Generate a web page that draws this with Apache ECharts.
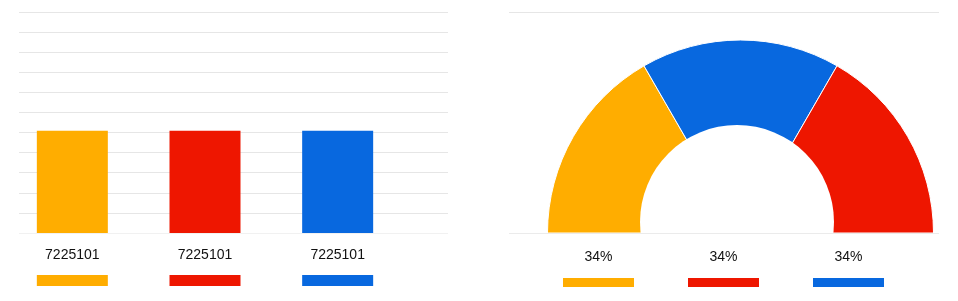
<!DOCTYPE html>
<html>
<head>
<meta charset="utf-8">
<script src="https://cdn.jsdelivr.net/npm/echarts@6/dist/echarts.min.js"></script>
<style>
html,body{margin:0;padding:0;background:#fff;}
#chart{width:958px;height:301px;}
</style>
</head>
<body>
<div id="chart"></div>
<script>
// ---- data ----
const categories = ['Option 1', 'Option 2', 'Option 3'];
const barValues = [7225101, 7225101, 7225101];
const pieValues = [34, 34, 34];
const pieLabels = ['34%', '34%', '34%'];
const pieOrder = [0, 2, 1];            // order of slices clockwise from the left
const yMax = 15620000;
const yInterval = 1420000;

// ---- styles ----
const colors = ['#FFAD00', '#EE1600', '#0868DF'];
const FONT = '"Liberation Sans Narrow", "Liberation Sans", Arial, sans-serif';

function richFor(i, text) {
  return '{v|' + text + '}\n{s|}\n{r' + i + '|}';
}
function makeRich(gap, rectH) {
  const rich = {
    v: { fontFamily: FONT, fontSize: 14, color: '#111111', lineHeight: 24, align: 'center' },
    s: { height: gap, lineHeight: gap }
  };
  colors.forEach((c, i) => {
    rich['r' + i] = { width: 71, height: rectH, backgroundColor: c, align: 'center' };
  });
  return rich;
}

const chart = echarts.init(document.getElementById('chart'));
const splitColorsLeft = ['#f1f1f1'].concat(new Array(11).fill('#e6e6e6'));

chart.setOption({
  animation: false,
  grid: [
    { left: 19, width: 429, top: 12, height: 221 },   // 0: left gridlines
    { left: 6, width: 398, top: 12, height: 221 },    // 1: left bars
    { left: 509, width: 430, top: 12, height: 221 },  // 2: right lines
    { left: 536, width: 375, top: 12, height: 221 }   // 3: right labels
  ],
  xAxis: [
    { gridIndex: 0, type: 'category', data: categories, show: false },
    {
      gridIndex: 1, type: 'category', data: categories, z: 10,
      axisLine: { show: false }, axisTick: { show: false },
      axisLabel: {
        margin: 10, interval: 0,
        formatter: (val, idx) => richFor(idx, String(barValues[idx])),
        rich: makeRich(8, 11)
      }
    },
    { gridIndex: 2, type: 'category', data: categories, show: false },
    {
      gridIndex: 3, type: 'category', data: categories, z: 10,
      axisLine: { show: false }, axisTick: { show: false },
      axisLabel: {
        margin: 12, interval: 0,
        formatter: (val, idx) => richFor(idx, pieLabels[idx]),
        rich: makeRich(9, 9)
      }
    }
  ],
  yAxis: [
    {
      gridIndex: 0, type: 'value', min: 0, max: yMax, interval: yInterval,
      axisLine: { show: false }, axisTick: { show: false }, axisLabel: { show: false },
      splitLine: { show: true, lineStyle: { color: splitColorsLeft, width: 1 } }
    },
    {
      gridIndex: 1, type: 'value', min: 0, max: yMax, interval: yInterval, show: false,
      splitLine: { show: false }
    },
    {
      gridIndex: 2, type: 'value', min: 0, max: 1, interval: 1, z: 10,
      axisLine: { show: false }, axisTick: { show: false }, axisLabel: { show: false },
      splitLine: { show: true, lineStyle: { color: ['#ebebeb', '#e6e6e6'], width: 1 } }
    },
    { gridIndex: 3, type: 'value', min: 0, max: 1, show: false, splitLine: { show: false } }
  ],
  series: [
    {
      type: 'bar', xAxisIndex: 1, yAxisIndex: 1, barWidth: 71,
      data: barValues.map((v, i) => ({ value: v, itemStyle: { color: colors[i] } })),
      label: { show: false }
    },
    {
      type: 'pie', center: [740.5, 233], radius: [80, 193],
      startAngle: 180, endAngle: 360, clockwise: true, z: 2,
      label: { show: false }, labelLine: { show: false }, silent: true,
      itemStyle: { borderColor: '#ffffff', borderWidth: 1 },
      data: pieOrder.map(i => ({ name: categories[i], value: pieValues[i], itemStyle: { color: colors[i] } }))
    },
    {
      type: 'pie', center: [737, 222], radius: [0, 97], z: 3, silent: true,
      label: { show: false }, labelLine: { show: false },
      itemStyle: { color: '#ffffff' },
      data: [{ value: 1 }]
    }
  ]
});
</script>
</body>
</html>
